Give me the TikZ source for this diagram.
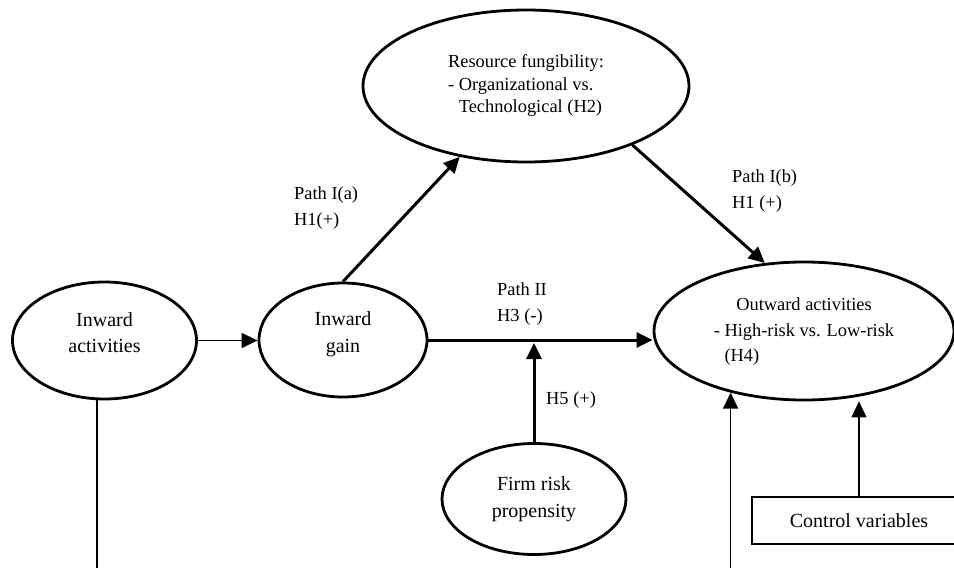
\documentclass[tikz,border=0pt]{standalone}
\usepackage{fontspec}
\setmainfont{Liberation Serif}
\usetikzlibrary{shapes.geometric,arrows.meta}
\begin{document}
\begin{tikzpicture}[x=1pt,y=-1pt,
  ell/.style={ellipse,draw,line width=2.8pt,inner sep=0pt,align=center,font=\fontsize{20}{26.5}\selectfont},
  lbl/.style={anchor=west,align=left,inner sep=0pt,font=\fontsize{18.4}{25.5}\selectfont},
  boxnode/.style={draw,line width=2.7pt,inner sep=0pt,font=\fontsize{20}{26}\selectfont},
  thickarr/.style={line width=3pt,-{Triangle[length=16pt,width=15pt]}},
  thinarr/.style={line width=1.4pt,-{Triangle[length=16pt,width=15pt]}},
  thinline/.style={line width=1.4pt}]
\useasboundingbox (0,0) rectangle (954,568);
\clip (0,0) rectangle (954,568);
% nodes
\node[ell,minimum width=184pt,minimum height=117pt] (ia) at (104.5,340.5) {Inward\\activities\rule[-16pt]{0pt}{16pt}};
\node[ell,minimum width=168pt,minimum height=114pt] (ig) at (343,340) {Inward\\gain\rule[-16pt]{0pt}{16pt}};
\node[ell,minimum width=326pt,minimum height=152pt,align=left,font=\fontsize{18.4}{22.5}\selectfont] (res) at (526,86)
  {Resource fungibility:\\- Organizational vs.\\\phantom{- }Technological (H2)};
\node[ell,minimum width=300pt,minimum height=138pt,font=\fontsize{18.4}{25.5}\selectfont] (out) at (804,331)
  {\begin{tabular}{@{}l@{}}\multicolumn{1}{@{}c@{}}{Outward activities}\\- High-risk vs. Low-risk\\\phantom{- }(H4)\end{tabular}};
\node[ell,minimum width=184pt,minimum height=111pt] (fr) at (534,499) {Firm risk\\propensity};
\node[boxnode,minimum width=214pt,minimum height=47pt] (ctrl) at (859,520.5) {Control variables};
% labels
\node[lbl] (la) at (294,208) {Path I(a)\\H1(+)};
\node[lbl] (lb) at (732,191) {Path I(b)\\H1 (+)};
\node[lbl] (lc) at (497,304) {Path II\\H3 (-)};
\node[lbl] (ld) at (546,400) {H5 (+)};
% free ends below the picture
\coordinate (bl) at (97,580);
\coordinate (br) at (732,580);
% connectors
\draw[thinarr] (ia.east) -- (ia.east -| ig.west);
\draw[thickarr] (ig.north) -- (res);
\draw[thickarr] (res.-29) -- (out.120);
\draw[thickarr] (ig.east) -- (ig.east -| out.west);
\draw[thickarr,shorten >=3pt] (fr.north) -- (fr.north |- ig.east);
\draw[thinline] (bl) -- (bl |- ia.south);
\draw[thinarr] (out.220 |- br) -- (out.220);
\draw[thinarr] (ctrl.north) -- (ctrl.north |- out.south);
\end{tikzpicture}
\end{document}
